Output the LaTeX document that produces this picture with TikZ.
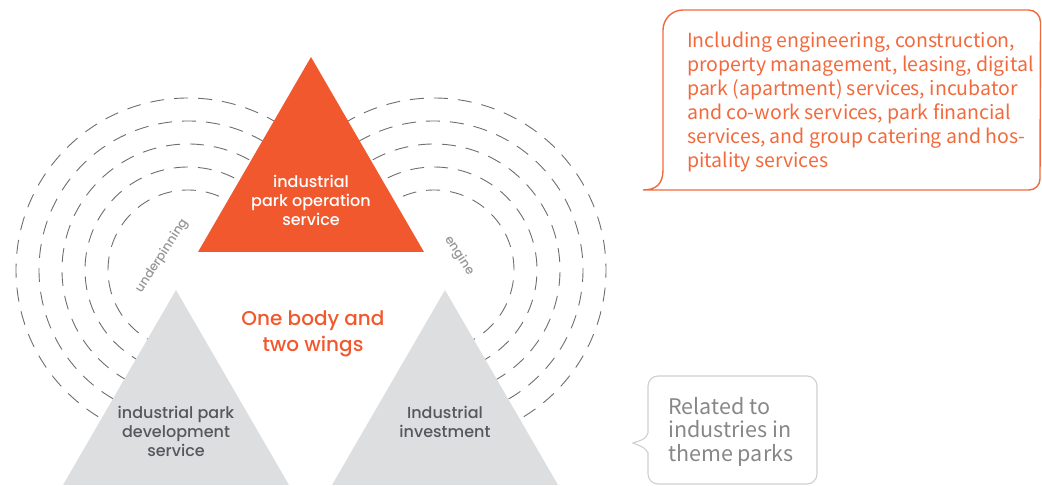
\documentclass[tikz,border=0pt]{standalone}
\usepackage{fontspec}
\setmainfont{Poppins}[UprightFont={* Medium}]
\newfontfamily\notefont{Noto Sans CJK SC}
\definecolor{bodyorange}{RGB}{241, 88, 45}
\definecolor{winggray}{RGB}{221, 222, 224}
\definecolor{ringgray}{RGB}{110, 110, 110}
\definecolor{wingtext}{RGB}{85, 87, 92}
\definecolor{labelgray}{RGB}{150, 150, 150}
\definecolor{noteorange}{RGB}{242, 105, 60}
\definecolor{notegray}{RGB}{208, 208, 208}
\definecolor{notetextgray}{RGB}{135, 135, 135}
\usetikzlibrary{calc}

\begin{document}
\begin{tikzpicture}[x=1pt, y=1pt,
  ring/.style={draw=ringgray, line width=0.9pt, dash pattern=on 14pt off 10pt},
  triangletext/.style={font=\fontsize{16}{19}\selectfont, align=center, inner sep=0pt},
  ringlabel/.style={font=\fontsize{12.5}{14}\selectfont, text=labelgray, inner sep=0pt},
  notetext/.style={align=left, inner sep=0pt, anchor=north west}]
  \useasboundingbox (0, 0) rectangle (1042, 486);

  % Dashed rings, left wing
  \foreach \r in {80, 103, 126, 149, 172}
    \draw[ring] (188, 216) ++(50:\r) arc[start angle=50, end angle=260, radius=\r];

  % Dashed rings, right wing
  \foreach \r in {80, 103, 126, 149, 172}
    \draw[ring] (434, 216) ++(130:\r) arc[start angle=130, end angle=-80, radius=\r];

  % One body
  \fill[bodyorange] (311, 429) -- (198, 234) -- (424, 234) -- cycle;
  \node[triangletext, text=white] (body) at (311, 285.5) {industrial\\park operation\\service};

  % Two wings
  \fill[winggray] (176, 196) -- (63, 1) -- (289, 1) -- cycle;
  \node[triangletext, text=wingtext] (devwing) at (176, 55) {industrial park\\development\\service};

  \fill[winggray] (445, 196) -- (332, 1) -- (558, 1) -- cycle;
  \node[triangletext, text=wingtext] (invwing) at (445, 64.5) {Industrial\\investment};

  % Centre title
  \node[font=\fontsize{20}{26}\selectfont, text=bodyorange, align=center, inner sep=0pt] (title) at (313, 152) {One body and\\two wings};

  % Ring labels
  \node[ringlabel, rotate=57] (under) at (162, 230) {underpinning};
  \node[ringlabel, rotate=-57] (engine) at (459, 230) {engine};

  % Callout for the operation service
  \draw[noteorange, line width=1.4pt] (643, 296) -- (1029, 296)
    arc[start angle=-90, end angle=0, radius=11] -- (1040.5, 464)
    arc[start angle=0, end angle=90, radius=12] -- (683, 476)
    arc[start angle=90, end angle=180, radius=20] -- (663, 316)
    .. controls (663, 302) and (656, 296) .. (643, 296) -- cycle;
  \node[notetext, text=noteorange, font=\notefont\fontsize{19.5}{24}\selectfont] (opnote) at (687, 454) {
    Including engineering, construction,\\
    property management, leasing, digital\\
    park (apartment) services, incubator\\
    and co-work services, park financial\\
    services, and group catering and hos-\\
    pitality services
  };

  % Callout for the investment wing
  \draw[notegray, line width=1.1pt] (658, 110) -- (807, 110)
    arc[start angle=90, end angle=0, radius=10] -- (817, 12)
    arc[start angle=0, end angle=-90, radius=10] -- (658, 2)
    arc[start angle=-90, end angle=-180, radius=10] -- (648, 33)
    .. controls (645, 38) .. (633, 43)
    .. controls (645, 47) .. (648, 53) -- (648, 100)
    arc[start angle=180, end angle=90, radius=10] -- cycle;
  \node[notetext, text=notetextgray, font=\notefont\fontsize{21.5}{23.5}\selectfont] (invnote) at (668, 89) {
    Related to\\
    industries in\\
    theme parks
  };
\end{tikzpicture}
\end{document}
